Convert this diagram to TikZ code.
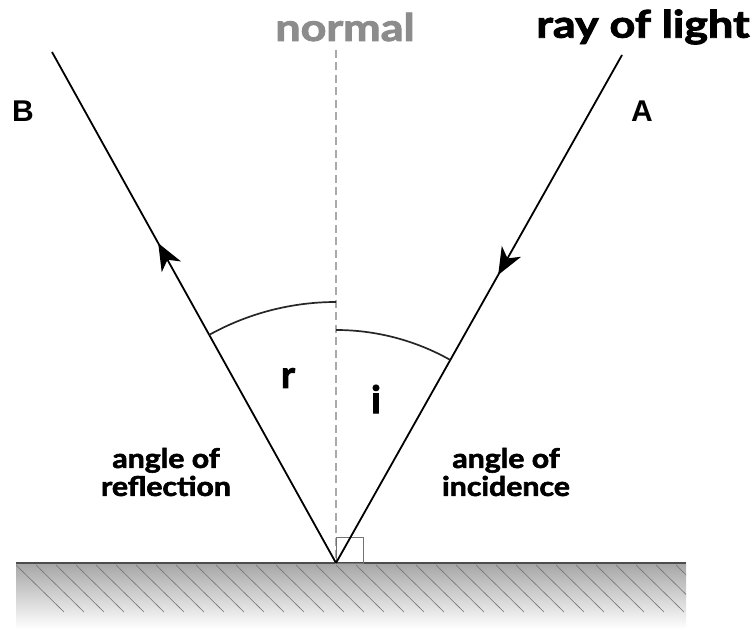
\documentclass[tikz,border=0pt]{standalone}
\usepackage{fontspec}
\setmainfont{Lato}[BoldFeatures={FakeBold=2.2}]
\newfontfamily\arialb{Liberation Sans}
\usetikzlibrary{arrows.meta,decorations.markings}
\definecolor{normalgray}{HTML}{8C8C8C}
\definecolor{dashgray}{HTML}{AAAAAA}
\tikzset{
  ray/.style={line width=1.8pt, black},
  anglearc/.style={line width=1.7pt, black!85},
  lbl/.style={font=\bfseries\fontsize{27}{28}\selectfont, align=center, inner sep=0pt, xscale=1.12},
  biglbl/.style={font=\bfseries\fontsize{38}{40}\selectfont, inner sep=0pt},
  letterlbl/.style={font=\arialb\bfseries\fontsize{30}{32}\selectfont, inner sep=0pt},
  anglelbl/.style={font=\bfseries\fontsize{38}{40}\selectfont, inner sep=0pt},
  hatch/.style={line width=0.6pt, black!55},
  raytip/.style={decoration={markings, mark=at position #1 with {\arrow{Stealth[length=27pt,width=22pt,inset=8pt]}}}, postaction={decorate}}
}
\begin{document}
\begin{tikzpicture}[x=1pt,y=1pt]
\useasboundingbox (0,0) rectangle (751,629);
% surface
\shade[top color=black!35, bottom color=white] (16,66) rectangle (686,0);
\begin{scope}
  \clip (16,66) rectangle (686,0);
  \foreach \k in {0,...,34} \draw[hatch] (16+20*\k,64) -- ++(48,-47);
\end{scope}
\draw[line width=2.5pt, black!70] (16,66) -- (686,66);
% points
\coordinate (P) at (336,66);
\coordinate (Atop) at (622,574);
\coordinate (Btop) at (52,577);
\coordinate (Ntop) at (336,579);
% normal
\draw[line width=1.8pt, dashgray, dash pattern=on 8pt off 4.5pt] (Ntop) -- (P);
% right angle box
\draw[line width=1pt, black!55] (P) rectangle (363,92);
% rays
\draw[ray, raytip=0.433] (Atop) -- (P);
\draw[ray, raytip=0.626] (P) -- (Btop);
% arcs
\draw[anglearc] (P) ++(119.07:261) arc[start angle=119.07, end angle=90, radius=261];
\draw[anglearc] (P) ++(90:233) arc[start angle=90, end angle=60.62, radius=233];
% labels
\node[biglbl, text=normalgray, xscale=1.18] (nlabel) at (345,602) {normal};
\node[biglbl, xscale=1.18] (raylabel) at (643,602) {ray of light};
\node[letterlbl] (B) at (23,518) {B};
\node[letterlbl] (A) at (642,518) {A};
\node[anglelbl] (r) at (288,251) {r};
\node[anglelbl] (i) at (376,230) {i};
\node[lbl] (refl) at (166,157) {angle of\\reflection};
\node[lbl] (inc) at (506,157) {angle of\\incidence};
\end{tikzpicture}
\end{document}
